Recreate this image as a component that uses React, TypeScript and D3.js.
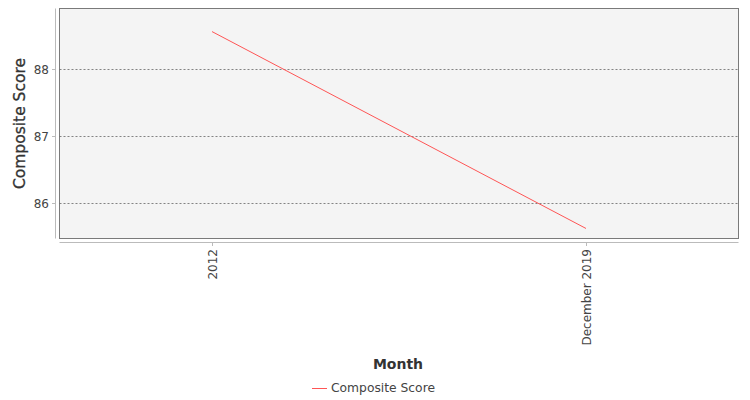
import React from "react";
import * as d3 from "d3";

const categories = ["2012", "December 2019"];
const scores = [88.57, 85.61];
const yTicks = [86, 87, 88];
const seriesName = "Composite Score";
const xTitle = "Month";
const yTitle = "Composite Score";

const W = 750;
const H = 400;
const plot = { left: 59.5, right: 738.5, top: 8.5, bottom: 238.5 };
const FONT = "'DejaVu Sans', sans-serif";

export default function App() {
  const x = d3
    .scalePoint<string>()
    .domain(categories)
    .range([plot.left, plot.right])
    .padding(0.4078);
  const y = d3.scaleLinear().domain([85.459, 88.917]).range([plot.bottom, plot.top]);
  const line = d3
    .line<number>()
    .x((_, i) => x(categories[i]) as number)
    .y((d) => y(d));

  return (
    <svg
      width={W}
      height={H}
      style={{ position: "absolute", left: 0, top: 0, fontFamily: FONT }}
    >
      <rect x={0} y={0} width={W} height={H} fill="#fff" />
      <rect
        x={plot.left}
        y={plot.top}
        width={plot.right - plot.left}
        height={plot.bottom - plot.top}
        fill="#f4f4f4"
        stroke="#7a7a7a"
        strokeWidth={1}
      />
      {yTicks.map((t) => (
        <g key={t}>
          <line
            x1={plot.left}
            x2={plot.right}
            y1={Math.round(y(t)) + 0.5}
            y2={Math.round(y(t)) + 0.5}
            stroke="#666"
            strokeWidth={0.8}
            strokeDasharray="2,2"
          />
          <line x1={52} x2={55.5} y1={Math.round(y(t)) + 0.5} y2={Math.round(y(t)) + 0.5} stroke="#bbb" />
          <text
            x={49}
            y={Math.round(y(t)) + 0.5}
            dy="0.35em"
            textAnchor="end"
            fontSize={12}
            fill="#444"
          >
            {t}
          </text>
        </g>
      ))}
      <line x1={55.5} x2={55.5} y1={plot.top} y2={plot.bottom} stroke="#bbb" />
      <line x1={plot.left} x2={plot.right} y1={242.5} y2={242.5} stroke="#bbb" />
      {categories.map((c) => (
        <g key={c}>
          <line
            x1={Math.round(x(c) as number) + 0.5}
            x2={Math.round(x(c) as number) + 0.5}
            y1={242.5}
            y2={246}
            stroke="#bbb"
          />
          <text
            transform={`translate(${(x(c) as number) + 0.5},249) rotate(-90)`}
            dy="0.35em"
            textAnchor="end"
            fontSize={12}
            fill="#444"
          >
            {c}
          </text>
        </g>
      ))}
      <path d={line(scores) || ""} fill="none" stroke="#ff5555" strokeWidth={1} />
      <text
        transform={`translate(20,${(plot.top + plot.bottom) / 2}) rotate(-90)`}
        dy="0.35em"
        textAnchor="middle"
        fontSize={15.5}
        fill="#333"
        stroke="#333"
        strokeWidth={0.3}
      >
        {yTitle}
      </text>
      <text x={398} y={364} dy="0.35em" textAnchor="middle" fontSize={14} fontWeight="bold" fill="#333">
        {xTitle}
      </text>
      <line x1={312} x2={327} y1={388.5} y2={388.5} stroke="#ff5555" strokeWidth={1} />
      <text x={331} y={388} dy="0.35em" fontSize={12.3} fill="#444">
        {seriesName}
      </text>
    </svg>
  );
}
